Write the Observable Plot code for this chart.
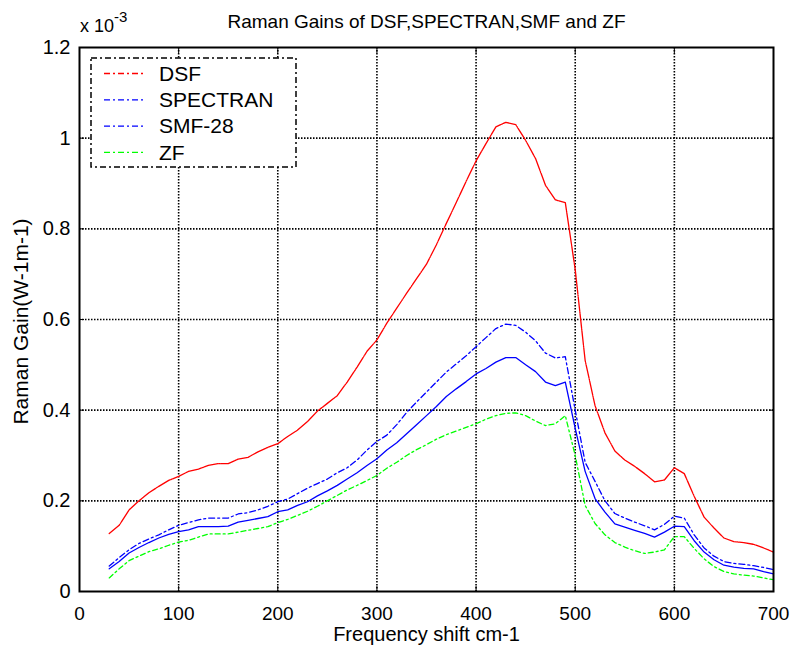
<!DOCTYPE html>
<html>
<head>
<meta charset="utf-8">
<script src="https://cdn.jsdelivr.net/npm/d3@7"></script>
<script src="https://cdn.jsdelivr.net/npm/@observablehq/plot@0.6"></script>
<style>
  html, body { margin: 0; padding: 0; background: #fff; }
  #chart { position: relative; width: 793px; height: 656px; }
  svg { font-family: "Liberation Sans", Arial, sans-serif; }
</style>
</head>
<body>
<div id="chart"></div>
<script>
const freq = [30,40,50,60,70,80,90,100,110,120,130,140,150,160,170,180,190,200,210,220,230,240,250,260,270,280,290,300,310,320,330,340,350,360,370,380,390,400,410,420,430,440,450,460,470,480,490,500,510,520,530,540,550,560,570,580,590,600,610,620,630,640,650,660,670,680,690,700];

const dsf = [0.128,0.146,0.180,0.200,0.218,0.232,0.245,0.254,0.265,0.270,0.278,0.282,0.282,0.292,0.296,0.308,0.318,0.326,0.342,0.356,0.375,0.398,0.415,0.432,0.462,0.495,0.530,0.555,0.592,0.625,0.658,0.690,0.722,0.765,0.812,0.858,0.905,0.950,0.988,1.025,1.035,1.030,0.995,0.955,0.896,0.864,0.858,0.710,0.510,0.410,0.350,0.310,0.290,0.276,0.260,0.242,0.246,0.273,0.260,0.210,0.164,0.140,0.118,0.110,0.108,0.104,0.096,0.087];

const spectran = [0.056,0.075,0.092,0.106,0.116,0.125,0.136,0.146,0.152,0.158,0.162,0.162,0.162,0.171,0.174,0.180,0.188,0.198,0.204,0.216,0.228,0.238,0.248,0.262,0.273,0.290,0.312,0.331,0.345,0.368,0.395,0.418,0.440,0.462,0.484,0.502,0.520,0.540,0.560,0.580,0.590,0.587,0.572,0.553,0.526,0.515,0.518,0.400,0.285,0.243,0.200,0.172,0.162,0.153,0.145,0.136,0.148,0.166,0.162,0.125,0.096,0.078,0.066,0.062,0.060,0.057,0.053,0.048];

const smf28 = [0.050,0.066,0.085,0.097,0.108,0.118,0.126,0.132,0.136,0.143,0.143,0.143,0.144,0.153,0.157,0.161,0.165,0.176,0.180,0.190,0.198,0.211,0.222,0.234,0.248,0.262,0.278,0.293,0.312,0.328,0.348,0.368,0.388,0.408,0.430,0.447,0.463,0.480,0.492,0.506,0.516,0.516,0.500,0.485,0.462,0.454,0.462,0.360,0.265,0.205,0.175,0.149,0.142,0.135,0.128,0.120,0.131,0.144,0.143,0.112,0.087,0.070,0.058,0.054,0.051,0.050,0.044,0.039];

const zf = [0.030,0.050,0.068,0.078,0.088,0.094,0.102,0.109,0.113,0.120,0.127,0.127,0.127,0.131,0.135,0.139,0.143,0.152,0.159,0.168,0.177,0.188,0.200,0.212,0.224,0.234,0.245,0.256,0.272,0.285,0.300,0.313,0.324,0.336,0.346,0.354,0.362,0.370,0.380,0.388,0.393,0.394,0.388,0.376,0.366,0.370,0.388,0.300,0.190,0.150,0.125,0.108,0.098,0.090,0.084,0.087,0.092,0.121,0.121,0.095,0.072,0.055,0.044,0.039,0.036,0.034,0.030,0.026];

const seriesNames = ["DSF", "SPECTRAN", "SMF-28", "ZF"];
const seriesValues = [dsf, spectran, smf28, zf];
const seriesColors = ["#ff0000", "#0000ff", "#0000ff", "#00ff00"];
const seriesDash = ["14,1,1,1", "6,3,2,3", null, "5,3,2,3"];

const xTicks = [0,100,200,300,400,500,600,700];
const yTicks = [0,0.2,0.4,0.6,0.8,1.0,1.2];
const yTickLabels = ["0","0.2","0.4","0.6","0.8","1","1.2"];

const titleText = "Raman Gains of DSF,SPECTRAN,SMF and ZF";
const xLabel = "Frequency shift cm-1";
const yLabel = "Raman Gain(W-1m-1)";

const rows = [];
seriesNames.forEach((name, i) => {
  freq.forEach((f, j) => rows.push({series: name, freq: f, gain: seriesValues[i][j]}));
});

const font = "Liberation Sans, Arial, sans-serif";
const lineMarks = seriesNames.map((name, i) =>
  Plot.line(rows.filter(d => d.series === name), {
    x: "freq", y: "gain",
    stroke: seriesColors[i], strokeWidth: 1.3,
    strokeDasharray: seriesDash[i] || undefined,
    curve: "linear"
  })
);

const plot = Plot.plot({
  width: 793,
  height: 656,
  marginLeft: 79,
  marginRight: 20,
  marginTop: 47,
  marginBottom: 65,
  style: {fontFamily: font, background: "#fff", color: "#000"},
  x: {domain: [0, 700]},
  y: {domain: [0, 1.2]},
  marks: [
    Plot.gridX(xTicks.slice(1, -1), {stroke: "#000", strokeOpacity: 1, strokeWidth: 1.6, strokeDasharray: "1.5,1.5"}),
    Plot.gridY(yTicks.slice(1, -1), {stroke: "#000", strokeOpacity: 1, strokeWidth: 1.6, strokeDasharray: "1.5,1.5"}),
    ...lineMarks,
    Plot.axisX(xTicks, {anchor: "bottom", tickSize: -5, tickPadding: 20, fontSize: 19, label: null, stroke: "#000"}),
    Plot.axisX(xTicks, {anchor: "top", tickSize: -5, tickFormat: () => "", label: null}),
    Plot.axisY(yTicks, {anchor: "left", tickSize: -5, tickPadding: 14, fontSize: 20, label: null, tickFormat: d => yTickLabels[yTicks.indexOf(d)]}),
    Plot.axisY(yTicks, {anchor: "right", tickSize: -5, tickFormat: () => "", label: null}),
    Plot.frame({stroke: "#000", strokeWidth: 2}),
    Plot.text([titleText], {frameAnchor: "top", lineAnchor: "middle", textAnchor: "middle", dy: -26, fontSize: 19, text: d => d}),
    Plot.text([xLabel], {frameAnchor: "bottom", lineAnchor: "middle", textAnchor: "middle", dy: 43, fontSize: 20, text: d => d}),
    Plot.text([yLabel], {frameAnchor: "left", lineAnchor: "middle", textAnchor: "middle", dx: -58, dy: 2, rotate: -90, fontSize: 21, text: d => d})
  ]
});

document.getElementById("chart").appendChild(plot);

// exponent label and legend drawn into the svg
const svg = d3.select(plot);
const exp = svg.append("text").attr("x", 80).attr("y", 32).attr("font-size", 18)
  .attr("font-family", font).attr("text-anchor", "start");
exp.append("tspan").text("x 10");
exp.append("tspan").attr("dy", -10).attr("font-size", 15).text("-3");

const lg = svg.append("g");
lg.append("rect").attr("x", 91).attr("y", 58).attr("width", 205).attr("height", 109)
  .attr("fill", "#fff").attr("stroke", "#000").attr("stroke-width", 1.5).attr("stroke-dasharray", "6,3,2,3");
seriesNames.forEach((name, i) => {
  const y = 73.5 + i * 26.3;
  lg.append("line").attr("x1", 104).attr("x2", 144).attr("y1", y).attr("y2", y)
    .attr("stroke", seriesColors[i]).attr("stroke-width", 1.3).attr("stroke-dasharray", "6,3,2,3");
  lg.append("text").attr("x", 159).attr("y", y).attr("dy", "0.35em").attr("font-size", 21)
    .attr("text-anchor", "start").attr("font-family", font).text(name);
});
</script>
</body>
</html>
